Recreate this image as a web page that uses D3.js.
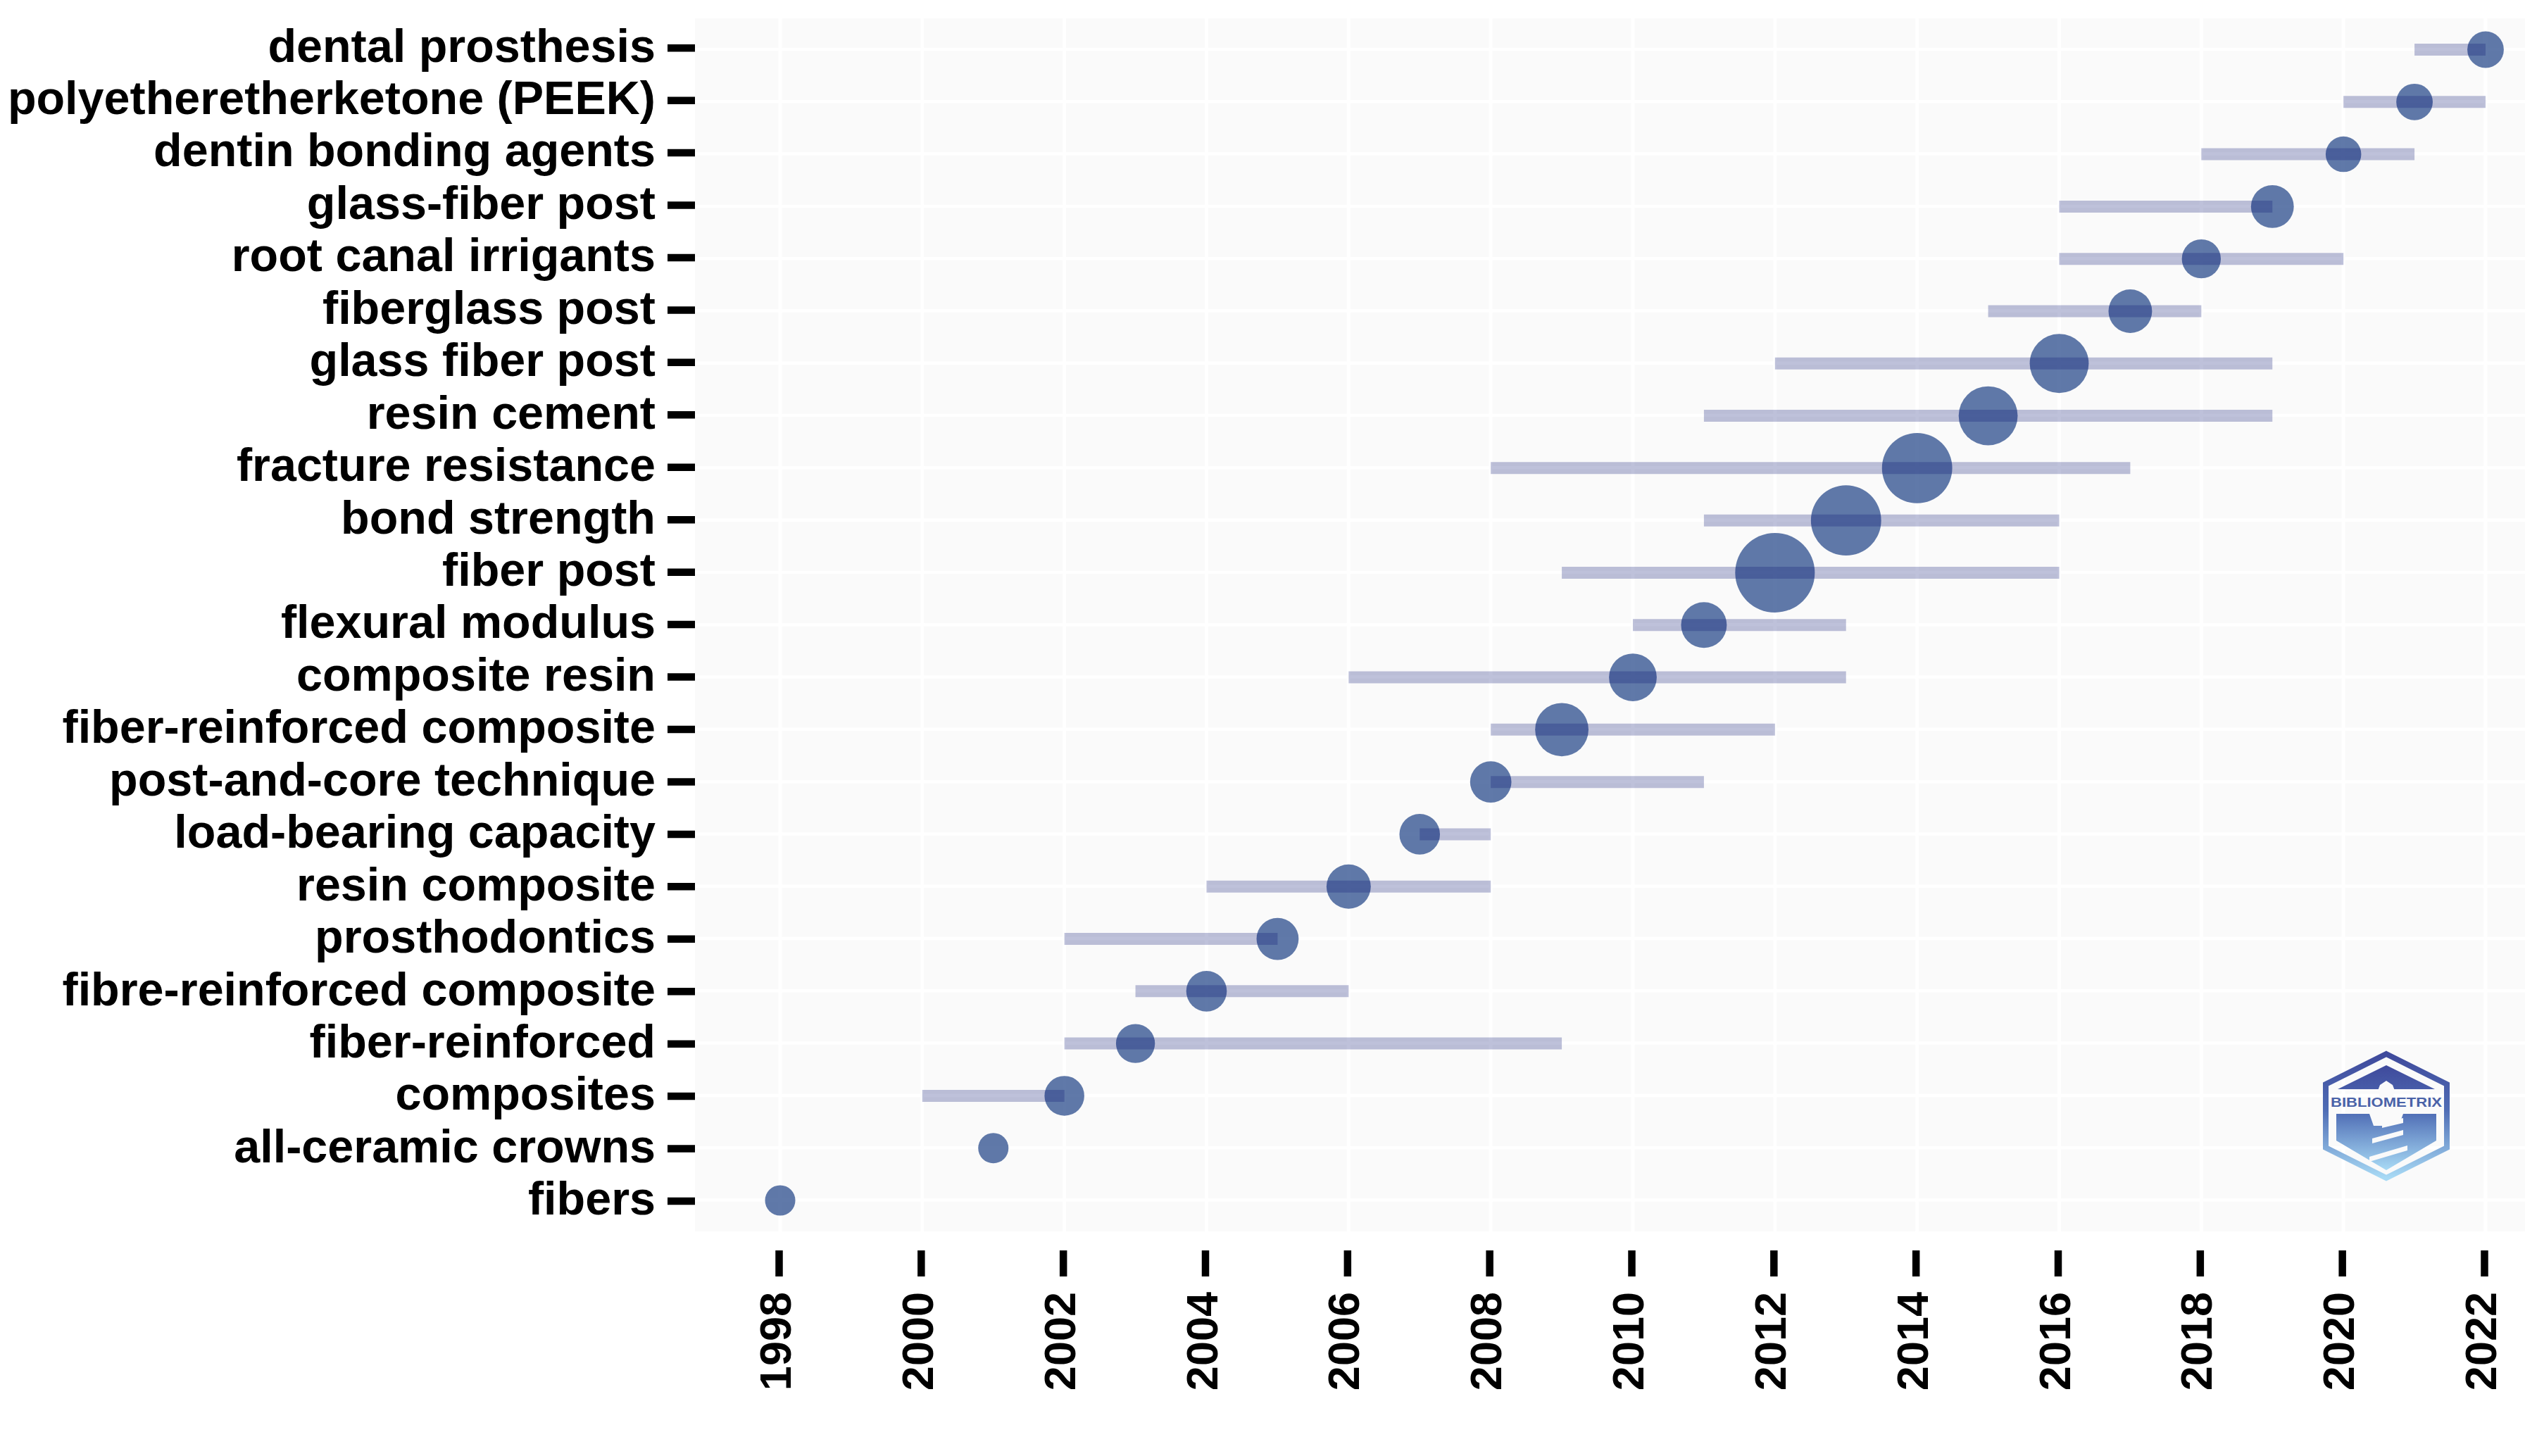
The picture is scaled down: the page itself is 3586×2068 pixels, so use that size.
<!DOCTYPE html>
<html lang="en">

<head>
    <meta charset="UTF-8">
    <title>Trend Topics</title>
    <style>
        body {
            margin: 0;
            padding: 0;
            background-color: #fff;
        }

        svg {
            display: block;
        }

        .tick text {
            font-family: "Liberation Sans", Arial, sans-serif;
            font-weight: bold;
            fill: #000;
        }

        .tick line {
            stroke: #000;
            stroke-width: 10.5px;
        }

        .domain {
            display: none;
        }
    </style>
</head>

<body>
    <svg width="3586" height="2068"></svg>

    <script src="https://d3js.org/d3.v7.min.js"></script>
    <script>
        // top row first
        const terms = ["dental prosthesis", "polyetheretherketone (PEEK)", "dentin bonding agents", "glass-fiber post",
            "root canal irrigants", "fiberglass post", "glass fiber post", "resin cement", "fracture resistance",
            "bond strength", "fiber post", "flexural modulus", "composite resin", "fiber-reinforced composite",
            "post-and-core technique", "load-bearing capacity", "resin composite", "prosthodontics",
            "fibre-reinforced composite", "fiber-reinforced", "composites", "all-ceramic crowns", "fibers"];
        const yearQ1 = [2021, 2020, 2018, 2016, 2016, 2015, 2012, 2011, 2008, 2011, 2009, 2010, 2006, 2008, 2008, 2007, 2004, 2002, 2003, 2002, 2000, 2001, 1998];
        const yearMedian = [2022, 2021, 2020, 2019, 2018, 2017, 2016, 2015, 2014, 2013, 2012, 2011, 2010, 2009, 2008, 2007, 2006, 2005, 2004, 2003, 2002, 2001, 1998];
        const yearQ3 = [2022, 2022, 2021, 2019, 2020, 2018, 2019, 2019, 2017, 2016, 2016, 2013, 2013, 2012, 2011, 2008, 2008, 2005, 2006, 2009, 2002, 2001, 1998];
        const freq = [21, 21, 20, 29, 24, 30, 55, 55, 78, 78, 100, 33, 36, 45, 27, 26, 31, 28, 26, 24, 25, 14.5, 14.5];
        const xTicks = d3.range(1998, 2023, 2);

        const panel = { left: 987, right: 3586, top: 26, bottom: 1749 };

        const svg = d3.select("svg");

        const x = d3.scaleLinear().domain([1998, 2022]).range([1108, 3530]);
        const y = d3.scalePoint().domain(terms).range([70.5, 1705]);
        // the axis sits a hair off the marks in the original
        const yTick = d3.scalePoint().domain(terms).range([67.7, 1705.5]);
        const size = d3.scaleSqrt().domain([0, 100]).range([0, 56.5]);

        // panel and grid
        svg.append("rect")
            .attr("x", panel.left).attr("y", panel.top)
            .attr("width", panel.right - panel.left).attr("height", panel.bottom - panel.top)
            .attr("fill", "#fafafa");

        svg.append("g").selectAll("line").data(xTicks).enter().append("line")
            .attr("x1", d => x(d)).attr("x2", d => x(d))
            .attr("y1", panel.top).attr("y2", panel.bottom)
            .attr("stroke", "#fff").attr("stroke-width", 5);

        svg.append("g").selectAll("line").data(terms).enter().append("line")
            .attr("x1", panel.left).attr("x2", panel.right)
            .attr("y1", d => y(d) - 0.5).attr("y2", d => y(d) - 0.5)
            .attr("stroke", "#fff").attr("stroke-width", 4.5);

        // logo
        const defs = svg.append("defs");
        const grad = defs.append("linearGradient")
            .attr("id", "logoGrad").attr("x1", 0).attr("y1", 0).attr("x2", 0).attr("y2", 1);
        grad.append("stop").attr("offset", "0%").attr("stop-color", "#3f4a9c");
        grad.append("stop").attr("offset", "45%").attr("stop-color", "#4f6db5");
        grad.append("stop").attr("offset", "100%").attr("stop-color", "#a8daf5");

        const logo = svg.append("g").attr("transform", "translate(3389,1585)");
        logo.append("path")
            .attr("d", "M0,-88L86,-45V45L0,88L-86,45V-45Z")
            .attr("fill", "none").attr("stroke", "url(#logoGrad)").attr("stroke-width", 8);
        logo.append("path")
            .attr("d", "M0,-72L69,-38H-69Z M-71,-3H71V35L0,77L-71,35Z")
            .attr("fill", "url(#logoGrad)");
        logo.append("path")
            .attr("d", "M0,-50L9,-44L12,-36L10,-30L20,-14L24,-3L20,8L-3,14L-18,14L-24,-3L-12,-14L-10,-30L-12,-36L-9,-44Z")
            .attr("fill", "#fafafa");
        logo.append("path")
            .attr("d", "M-6,10L24,3V10L-6,17Z M-20,32L24,20V27L-20,39Z M-24,58L30,42V49L-24,65Z")
            .attr("fill", "#fafafa");
        logo.append("text")
            .attr("x", 0).attr("y", -13)
            .attr("text-anchor", "middle")
            .attr("font-family", "Liberation Sans, Arial, sans-serif")
            .attr("font-weight", "bold").attr("font-size", 19)
            .attr("textLength", 158).attr("lengthAdjust", "spacingAndGlyphs")
            .attr("fill", "#4a62a8")
            .text("BIBLIOMETRIX");

        // points
        svg.append("g").selectAll("circle").data(terms).enter().append("circle")
            .attr("cx", (d, i) => x(yearMedian[i]))
            .attr("cy", d => y(d))
            .attr("r", (d, i) => size(freq[i]))
            .attr("fill", "#2e4f8e").attr("fill-opacity", 0.76);

        // bars go over the points
        svg.append("g").selectAll("line").data(terms).enter().append("line")
            .attr("x1", (d, i) => x(yearQ1[i])).attr("x2", (d, i) => x(yearQ3[i]))
            .attr("y1", d => y(d)).attr("y2", d => y(d))
            .attr("stroke", "#0d1a78").attr("stroke-opacity", 0.27).attr("stroke-width", 17);

        // axes
        const yAxis = d3.axisLeft(yTick).tickSize(39).tickPadding(17);
        svg.append("g")
            .attr("transform", `translate(987,0)`)
            .call(yAxis)
            .selectAll("text")
            .attr("font-size", 66.5)
            .attr("dy", 19.3);

        const xAxis = d3.axisBottom(x).tickValues(xTicks).tickFormat(d3.format("d")).tickSize(37).tickPadding(0);
        const gx = svg.append("g")
            .attr("transform", `translate(-2,1776)`)
            .call(xAxis);
        gx.selectAll("text")
            .attr("font-size", 63)
            .attr("text-anchor", "end")
            .attr("dy", null)
            .attr("transform", "translate(0,59) rotate(-90)")
            .attr("x", 0).attr("y", 0)
            .attr("dominant-baseline", "middle");
    </script>
</body>

</html>
